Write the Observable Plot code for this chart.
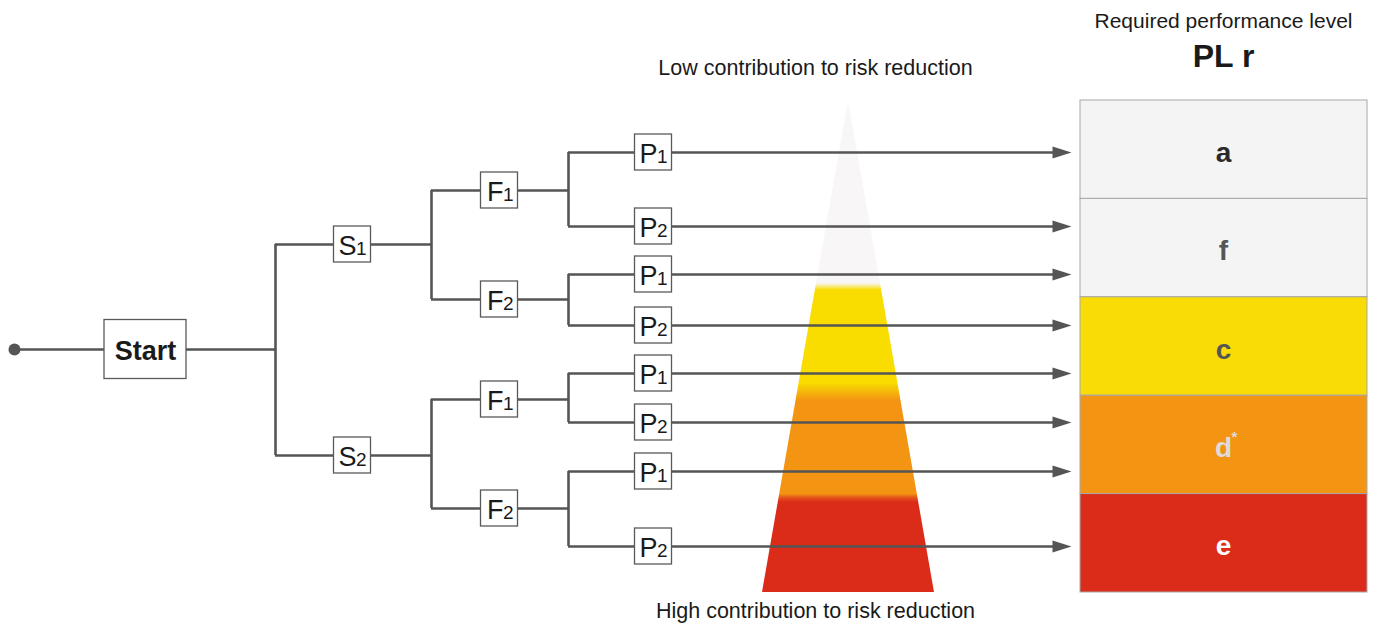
<!DOCTYPE html>
<html><head><meta charset="utf-8">
<script src="https://cdn.jsdelivr.net/npm/d3@7"></script>
<script src="https://cdn.jsdelivr.net/npm/@observablehq/plot@0.6"></script>
<style>
html,body{margin:0;padding:0;background:#fff;}
#chart svg{display:block;}
</style>
</head><body><div id="chart"></div>
<script>
// ---- Content / data ----
const headerTitle = "Required performance level";
const headerLevel = "PL r";
const lowText = "Low contribution to risk reduction";
const highText = "High contribution to risk reduction";
const startLabel = "Start";

// Tree nodes (layout rows in diagram units)
const startRow = 349;
const sNodes = [{label:"S", sub:"1", y:244}, {label:"S", sub:"2", y:455}];
const fNodes = [
  {label:"F", sub:"1", y:190, parent:0}, {label:"F", sub:"2", y:299, parent:0},
  {label:"F", sub:"1", y:399, parent:1}, {label:"F", sub:"2", y:508, parent:1}
];
const pNodes = [
  {label:"P", sub:"1", y:152, parent:0}, {label:"P", sub:"2", y:226, parent:0},
  {label:"P", sub:"1", y:274, parent:1}, {label:"P", sub:"2", y:325, parent:1},
  {label:"P", sub:"1", y:373, parent:2}, {label:"P", sub:"2", y:422, parent:2},
  {label:"P", sub:"1", y:471, parent:3}, {label:"P", sub:"2", y:546, parent:3}
];
// Column positions
const dotX = 14, startX = 145, sX = 352, fX = 499, pX = 653;
const branchX = [275, 431, 568];
const arrowLineEnd = 1053, arrowHeadX = 1062;

// Performance levels
const plLabels = ["a", "f", "c", "d", "e"];
const plSup = ["", "", "", "*", ""];
const plColors = ["#f4f4f4", "#f4f4f4", "#f9dc06", "#f39512", "#db2c1a"];
const plTextColors = ["#2a2a2a", "#555555", "#555555", "#dcdcdc", "#ffffff"];
const plTop = 100, plBottom = 592, plLeft = 1080, plRight = 1367;

// Triangle
const triangle = [{y:100, x1:848, x2:848}, {y:592, x1:762, x2:934}];
const triStops = [
  [0, "#f9f6f7"], [0.372, "#f9f6f7"], [0.386, "#f9dc00"],
  [0.575, "#f9dc00"], [0.61, "#f39512"],
  [0.80, "#f39512"], [0.808, "#e4561a"], [0.817, "#db2c1a"], [1, "#db2c1a"]
];

// ---- Derived tables ----
const lineColor = "#555555";
const hSegs = [];
const vSegs = [];
hSegs.push({y:startRow, x1:dotX, x2:branchX[0]});
vSegs.push({x:branchX[0], y1:d3.min(sNodes, d=>d.y), y2:d3.max(sNodes, d=>d.y)});
sNodes.forEach((s,i) => {
  hSegs.push({y:s.y, x1:branchX[0], x2:branchX[1]});
  const ch = fNodes.filter(f => f.parent === i);
  vSegs.push({x:branchX[1], y1:d3.min(ch, d=>d.y), y2:d3.max(ch, d=>d.y)});
});
fNodes.forEach((f,i) => {
  hSegs.push({y:f.y, x1:branchX[1], x2:branchX[2]});
  const ch = pNodes.filter(p => p.parent === i);
  vSegs.push({x:branchX[2], y1:d3.min(ch, d=>d.y), y2:d3.max(ch, d=>d.y)});
});
pNodes.forEach(p => hSegs.push({y:p.y, x1:branchX[2], x2:arrowLineEnd}));

const smallBoxes = [
  ...sNodes.map(d => ({...d, x:sX})),
  ...fNodes.map(d => ({...d, x:fX})),
  ...pNodes.map(d => ({...d, x:pX}))
];
const bw = 37, bh = 36;
const plStep = (plBottom - plTop) / plLabels.length;
const plBoxes = plLabels.map((l,i) => ({
  label:l, sup:plSup[i], fill:plColors[i], tc:plTextColors[i],
  y1: plTop + i*plStep, y2: plTop + (i+1)*plStep, yc: plTop + (i+0.5)*plStep
}));

const arrowSymbol = {
  draw(ctx) { ctx.moveTo(9,0); ctx.lineTo(-10,-6); ctx.lineTo(-10,6); ctx.closePath(); }
};

const W = 1373, H = 626;
const font = "'Liberation Sans', Arial, Helvetica, sans-serif";

const plot = Plot.plot({
  width: W, height: H,
  margin: 0,
  x: {domain:[0, W], range:[0, W], axis:null},
  y: {domain:[0, H], range:[0, H], axis:null},
  style: {fontFamily: font, background: "#fff"},
  marks: [
    // triangle
    Plot.areaX(triangle, {y:"y", x1:"x1", x2:"x2", fill:"url(#triGrad)"}),
    // tree lines
    Plot.ruleY(hSegs, {y:"y", x1:"x1", x2:"x2", stroke:lineColor, strokeWidth:2.6}),
    Plot.ruleX(vSegs, {x:"x", y1:"y1", y2:"y2", stroke:lineColor, strokeWidth:2.6}),
    // arrowheads
    Plot.dot(pNodes, {x:() => arrowHeadX, y:"y", symbol:arrowSymbol, fill:lineColor, stroke:"none"}),
    // start dot
    Plot.dot([{x:dotX, y:startRow}], {x:"x", y:"y", r:6, fill:lineColor}),
    // start box
    Plot.rect([{x:startX, y:startRow}], {x1:d=>d.x-41, x2:d=>d.x+41, y1:d=>d.y-29.5, y2:d=>d.y+29.5,
      fill:"#fff", stroke:"#5a5a5a", strokeWidth:1.3}),
    Plot.text([{x:startX, y:startRow}], {x:"x", y:d=>d.y+10, text:() => startLabel, lineAnchor:"bottom", fontSize:27, fontWeight:"bold", fill:"#1a1a1a"}),
    // small boxes
    Plot.rect(smallBoxes, {x1:d=>d.x-bw/2, x2:d=>d.x+bw/2, y1:d=>d.y-bh/2, y2:d=>d.y+bh/2,
      fill:"#fff", stroke:"#5a5a5a", strokeWidth:1.3}),
    Plot.text(smallBoxes, {x:d=>d.x+4, y:d=>d.y+10, text:"label", textAnchor:"end", lineAnchor:"bottom", fontSize:27, fill:"#1a1a1a"}),
    Plot.text(smallBoxes, {x:d=>d.x+3.5, y:d=>d.y+10, text:"sub", textAnchor:"start", lineAnchor:"bottom", fontSize:19, fill:"#1a1a1a"}),
    // PL boxes
    Plot.rect(plBoxes, {x1:()=>plLeft, x2:()=>plRight, y1:"y1", y2:"y2", fill:d=>d.fill, stroke:"#a8a8a8", strokeWidth:1}),
    Plot.text(plBoxes, {x:()=>1223, y:d=>d.yc+12, text:"label", lineAnchor:"bottom", fill:d=>d.tc, fontSize:28, fontWeight:"bold"}),
    Plot.text(plBoxes.filter(d=>d.sup), {x:()=>1234, y:d=>d.yc-3, text:"sup", lineAnchor:"bottom", fill:d=>d.tc, fontSize:15, fontWeight:"bold"}),
    // header
    Plot.text([headerTitle], {x:()=>1223, y:()=>27, text:d=>d, lineAnchor:"bottom", fontSize:21, fill:"#1a1a1a"}),
    Plot.text([headerLevel], {x:()=>1223, y:()=>66, text:d=>d, lineAnchor:"bottom", fontSize:32, fontWeight:"bold", fill:"#1a1a1a"}),
    // low / high
    Plot.text([lowText], {x:()=>815, y:()=>74, text:d=>d, lineAnchor:"bottom", fontSize:21.5, fill:"#1a1a1a"}),
    Plot.text([highText], {x:()=>815, y:()=>617, text:d=>d, lineAnchor:"bottom", fontSize:21.5, fill:"#1a1a1a"})
  ]
});

// gradient definition for the triangle
const svg = d3.select(plot);
const defs = svg.insert("defs", ":first-child");
const grad = defs.append("linearGradient").attr("id", "triGrad")
  .attr("x1", 0).attr("y1", 0).attr("x2", 0).attr("y2", 1);
triStops.forEach(([o,c]) => grad.append("stop").attr("offset", o).attr("stop-color", c));

document.getElementById("chart").appendChild(plot);
</script>
</body></html>
